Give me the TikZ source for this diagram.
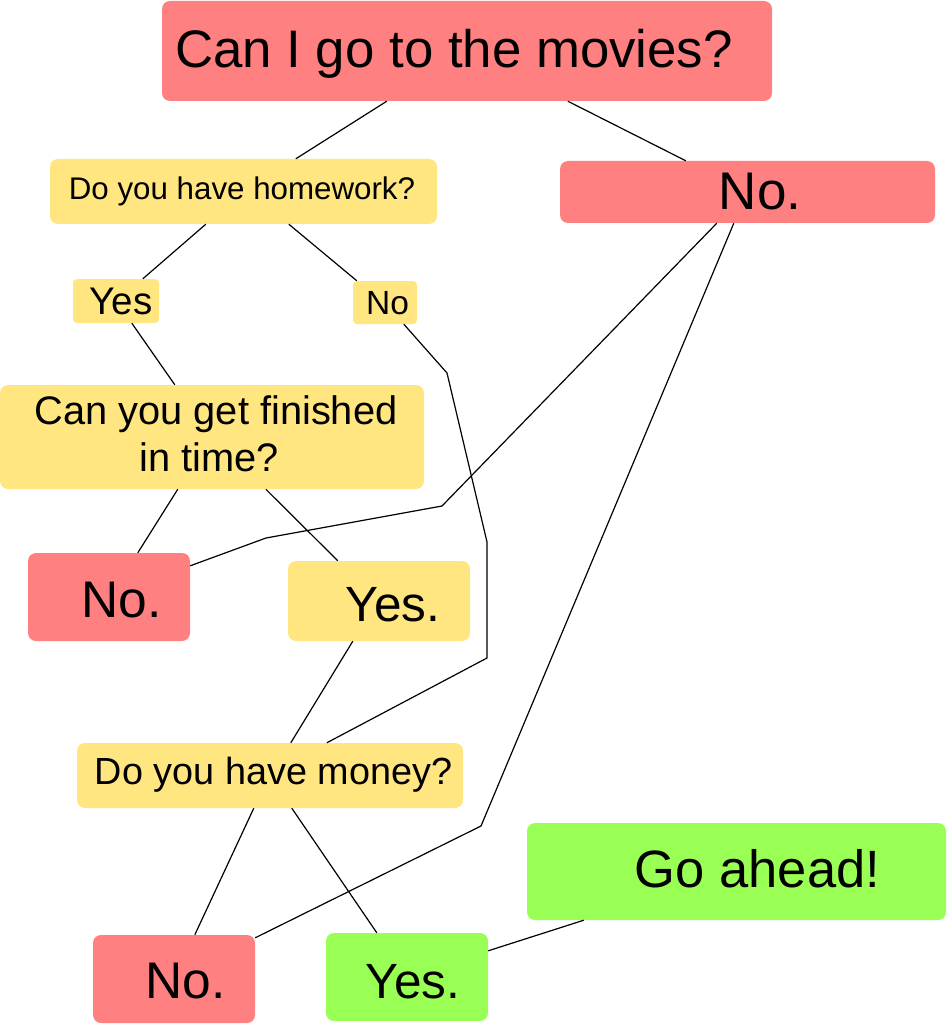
\documentclass[tikz,border=0pt]{standalone}
\usepackage{fontspec}
\setmainfont{Liberation Sans}
\usepackage{tikz}
\usetikzlibrary{calc}

\definecolor{boxred}{HTML}{FF8080}
\definecolor{boxyellow}{HTML}{FFE680}
\definecolor{boxgreen}{HTML}{99FF55}
\newcommand\fsz[1]{\fontsize{#1}{#1}\selectfont}

\begin{document}
\begin{tikzpicture}[x=1pt, y=-1pt,
    box/.style={inner sep=0pt, rounded corners=8pt},
    small/.style={rounded corners=4pt},
    redbox/.style={box, fill=boxred},
    yellowbox/.style={box, fill=boxyellow},
    greenbox/.style={box, fill=boxgreen},
    word/.style={inner sep=0pt, anchor=base},
    link/.style={black, line width=1.2pt}]
    \useasboundingbox (0,0) rectangle (947,1024);

    % boxes
    \node[redbox, minimum width=610pt, minimum height=100pt] (movies) at (467,51) {};
    \node[yellowbox, minimum width=387pt, minimum height=65pt] (homework) at (243.5,191.5) {};
    \node[redbox, minimum width=375pt, minimum height=62pt] (nomain) at (747.5,192) {};
    \node[yellowbox, small, minimum width=86pt, minimum height=44pt] (yes1) at (116,301) {};
    \node[yellowbox, small, minimum width=64pt, minimum height=43pt] (no1) at (385,302.5) {};
    \node[yellowbox, minimum width=424pt, minimum height=104pt] (finished) at (212,437) {};
    \node[redbox, minimum width=162pt, minimum height=88pt] (no2) at (109,597) {};
    \node[yellowbox, minimum width=182pt, minimum height=80pt] (yes2) at (379,601) {};
    \node[yellowbox, minimum width=386pt, minimum height=65pt] (money) at (270,775.5) {};
    \node[greenbox, minimum width=419pt, minimum height=97pt] (goahead) at (736.5,871.5) {};
    \node[redbox, minimum width=162pt, minimum height=88pt] (no3) at (174,979) {};
    \node[greenbox, minimum width=162pt, minimum height=88pt] (yes3) at (407,977) {};

    % texts
    \node[word, font=\fsz{52.8}] (movies-t) at (454,68) {Can I go to the movies?};
    \node[word, font=\fsz{31.3}] (homework-t) at (242,200) {Do you have homework?};
    \node[word, font=\fsz{53}] (nomain-t) at (760,210) {No.};
    \node[word, font=\fsz{38.5}] (yes1-t) at (121,314) {Yes};
    \node[word, font=\fsz{33.5}] (no1-t) at (387.5,314) {No};
    \node[word, font=\fsz{39.8}] (finished-t1) at (216,424) {Can you get finished};
    \node[word, font=\fsz{39.8}] (finished-t2) at (209.5,471) {in time?};
    \node[word, font=\fsz{51.5}] (no2-t) at (121.5,617) {No.};
    \node[word, font=\fsz{49.5}] (yes2-t) at (393,621) {Yes.};
    \node[word, font=\fsz{37.8}] (money-t) at (273.5,784) {Do you have money?};
    \node[word, font=\fsz{52.5}] (goahead-t) at (757.5,887) {Go ahead!};
    \node[word, font=\fsz{51.5}] (no3-t) at (185.5,998) {No.};
    \node[word, font=\fsz{49.5}] (yes3-t) at (413,998) {Yes.};

    % connectors
    \draw[link] ($(movies.south west)+(225,0)$) -- ($(homework.north west)+(246,0)$);
    \draw[link] ($(movies.south west)+(406,0)$) -- ($(nomain.north west)+(126,0)$);
    \draw[link] ($(homework.south west)+(156,0)$) -- ($(yes1.north west)+(70,0)$);
    \draw[link] ($(homework.south west)+(239,0)$) -- ($(no1.north west)+(4,0)$);
    \draw[link] ($(yes1.south west)+(59,0)$) -- ($(finished.north west)+(175,0)$);
    \draw[link] ($(no1.south west)+(51,0)$) -- (447,373) -- (487,542) -- (487,658)
        -- ($(money.north west)+(250,0)$);
    \draw[link] ($(finished.south west)+(178,0)$) -- ($(no2.north west)+(110,0)$);
    \draw[link] ($(finished.south west)+(266,0)$) -- ($(yes2.north west)+(50,0)$);
    \draw[link] ($(nomain.south west)+(157,0)$) -- (442,506) -- (266,538)
        -- ($(no2.north east)+(0,13)$);
    \draw[link] ($(nomain.south west)+(174,0)$) -- (481,826)
        -- ($(no3.north east)+(0,3)$);
    \draw[link] ($(yes2.south west)+(65,0)$) -- ($(money.north west)+(214,0)$);
    \draw[link] ($(money.south west)+(177,0)$) -- ($(no3.north west)+(102,0)$);
    \draw[link] ($(money.south west)+(215,0)$) -- ($(yes3.north west)+(51,0)$);
    \draw[link] ($(yes3.north east)+(0,18)$) -- ($(goahead.south west)+(57,0)$);
\end{tikzpicture}
\end{document}
